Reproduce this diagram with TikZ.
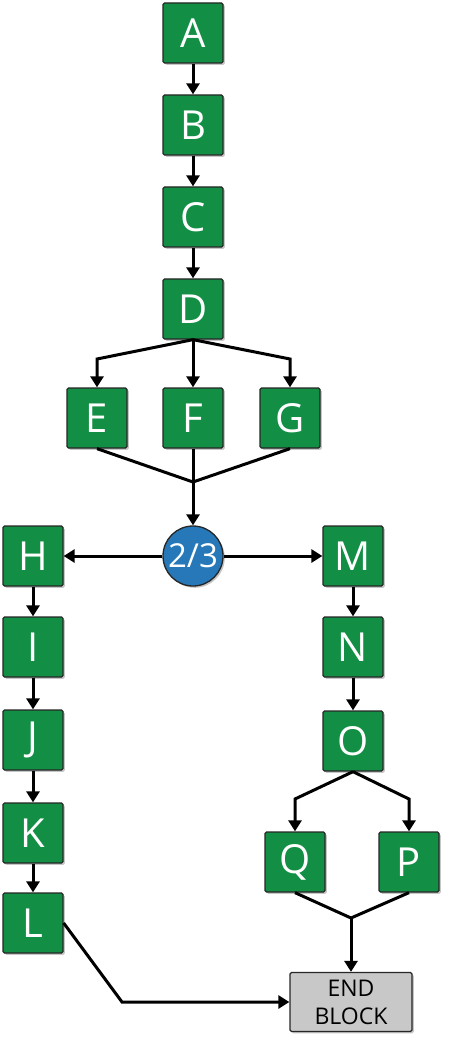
\documentclass[tikz,border=0pt]{standalone}
\usepackage{fontspec}
\setmainfont{Open Sans}
\usetikzlibrary{arrows.meta,shadows}

\begin{document}
\begin{tikzpicture}[x=1pt, y=-1pt,
      blk/.style={draw=black!85, line width=1.3pt, rounded corners=1.5pt, fill={rgb,255:red,18;green,143;blue,69},
        minimum size=60pt, inner sep=0pt, text=white, font=\fontsize{40}{44}\selectfont,
        drop shadow={shadow xshift=1.8pt, shadow yshift=-1.8pt, opacity=0.45}},
      vote/.style={circle, draw=black!85, line width=1.3pt, fill={rgb,255:red,38;green,120;blue,184},
        minimum size=60pt, inner sep=0pt, text=white, font=\fontsize{33}{36}\selectfont,
        drop shadow={shadow xshift=1.8pt, shadow yshift=-1.8pt, opacity=0.45}},
      endblk/.style={blk, fill={rgb,255:red,200;green,200;blue,200}, text=black, minimum width=122pt,
        minimum height=59pt, align=center, font=\fontsize{23}{28}\selectfont},
      ln/.style={line width=3pt, line join=miter},
      arr/.style={ln, -{Triangle[width=13pt,length=11pt]}}
    ]
    \useasboundingbox (0,0) rectangle (450,1040);
    \node[blk] (A) at (193,33) {A};
    \node[blk] (B) at (193,125) {B};
    \node[blk] (C) at (193,217) {C};
    \node[blk] (D) at (193,309) {D};
    \node[blk] (E) at (97,418) {E};
    \node[blk] (F) at (193,418) {F};
    \node[blk] (G) at (290,418) {G};
    \node[vote] (vote) at (193,556) {2/3};
    \node[blk] (H) at (33,556) {H};
    \node[blk] (I) at (33,647) {I};
    \node[blk] (J) at (33,740) {J};
    \node[blk] (K) at (33,833) {K};
    \node[blk] (L) at (33,923) {L};
    \node[blk] (M) at (353,556) {M};
    \node[blk] (N) at (353,647) {N};
    \node[blk] (O) at (353,741) {O};
    \node[blk] (Q) at (295,862) {Q};
    \node[blk] (P) at (409,862) {P};
    \node[endblk] (end) at (351,1002) {END\\BLOCK};
    \coordinate (dE) at (97,359); \coordinate (dG) at (290,359); \coordinate (jEFG) at (193,482);
    \coordinate (oQ) at (295,799); \coordinate (oP) at (409,799); \coordinate (jQP) at (351,918);
    \coordinate (lc) at (122,1002);
    \draw[arr] (A) -- (B); \draw[arr] (B) -- (C); \draw[arr] (C) -- (D);
    \draw[arr] (D.south) -- (dE) -- (E); \draw[arr] (D) -- (F); \draw[arr] (D.south) -- (dG) -- (G);
    \draw[ln] (E.south) -- (jEFG) -- (G.south); \draw[arr] (F) -- (jEFG) -- (vote);
    \draw[arr] (vote) -- (H); \draw[arr] (vote) -- (M);
    \draw[arr] (H) -- (I); \draw[arr] (I) -- (J); \draw[arr] (J) -- (K); \draw[arr] (K) -- (L);
    \draw[arr] (M) -- (N); \draw[arr] (N) -- (O);
    \draw[arr] (O.south) -- (oQ) -- (Q); \draw[arr] (O.south) -- (oP) -- (P);
    \draw[ln] (Q.south) -- (jQP) -- (P.south); \draw[arr] (jQP) -- (end);
    \draw[arr] (L.east) -- (lc) -- (end);
  \end{tikzpicture}
\end{document}
